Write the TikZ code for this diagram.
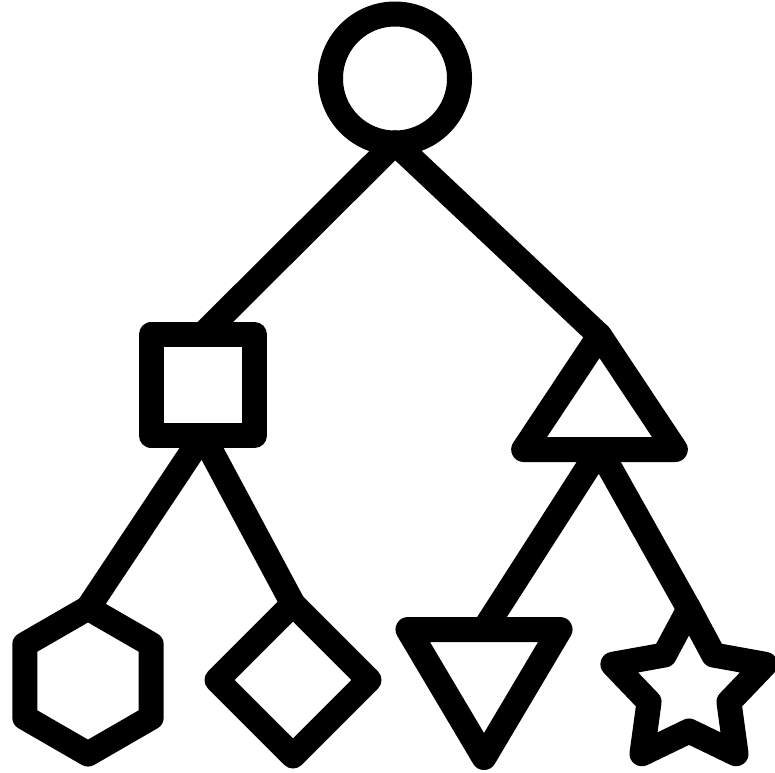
\documentclass[tikz,border=0pt]{standalone}
\begin{document}
\begin{tikzpicture}[x=1pt,y=-1pt,
  shapeline/.style={draw=black, line width=25pt, line join=round},
  link/.style={draw=black, line width=25pt, line cap=round}]
\useasboundingbox[fill=white] (0,0) rectangle (775,772);
% named points
\coordinate (circC) at (395,78.5);
\coordinate (circB) at (395,143);
\coordinate (sqT) at (202.75,334.5);
\coordinate (sqB) at (202.75,435.5);
\coordinate (triT) at (599.5,335.5);
\coordinate (triB) at (599.5,449.5);
\coordinate (hexC) at (88,681);
\coordinate (hexT) at (88,608);
\coordinate (diaC) at (293,680);
\coordinate (diaT) at (293,604);
\coordinate (dtriT) at (484,629.5);
\coordinate (starC) at (689,689);
\coordinate (starT) at (689,609);
% connectors
\draw[link] (circB) -- (sqT);
\draw[link] (circB) -- (triT);
\draw[link] (sqB) -- (hexT);
\draw[link] (sqB) -- (diaT);
\draw[link] (triB) -- (dtriT);
\draw[link] (triB) -- (starT);
% shapes
\draw[shapeline] (circC) circle[radius=64.5pt];
\draw[shapeline] (151,334.5) rectangle (254.5,435.5);
\draw[shapeline] (triT) -- (675.3,449.5) -- (523.7,449.5) -- cycle;
\draw[shapeline, shift={(hexC)}] (270:73) -- (330:73) -- (30:73) -- (90:73) -- (150:73) -- (210:73) -- cycle;
\draw[shapeline, shift={(diaC)}] (270:76) -- (0:76) -- (90:76) -- (180:76) -- cycle;
\draw[shapeline] (408,629.5) -- (560,629.5) -- (484,757.5) -- cycle;
\draw[shapeline, shift={(starC)}] (270:80) -- (306:42) -- (342:80) -- (18:42) -- (54:80) -- (90:42) -- (126:80) -- (162:42) -- (198:80) -- (234:42) -- cycle;
\end{tikzpicture}
\end{document}
